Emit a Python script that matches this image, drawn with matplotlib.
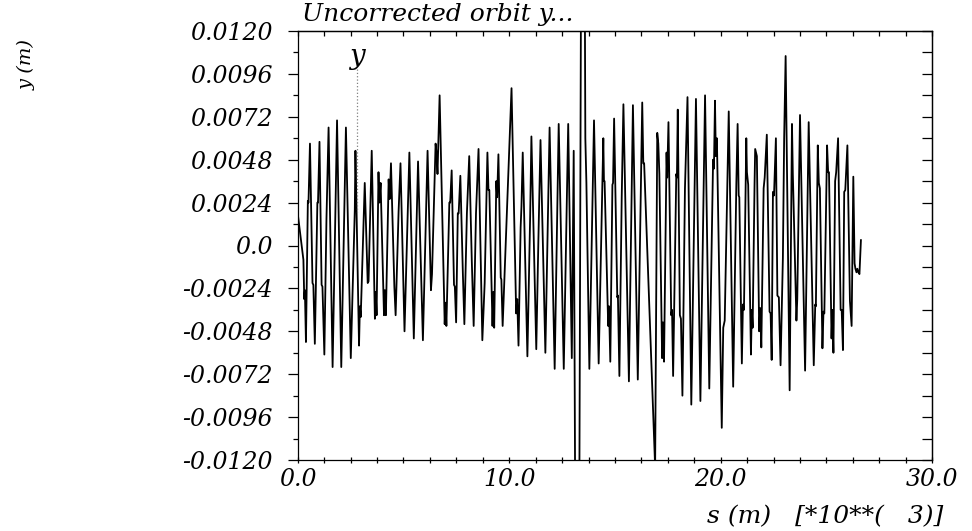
import numpy as np
import matplotlib
matplotlib.use("Agg")
import matplotlib.pyplot as plt

# orbit samples: s in km (x10**3 m), y in mm
s_km = [0.00, 0.27, 0.31, 0.34, 0.39, 0.48, 0.51, 0.58, 0.70, 0.74, 0.81, 0.93, 0.96, 1.03,
        1.13, 1.17, 1.26, 1.36, 1.46, 1.65, 1.86, 2.06, 2.28, 2.51, 2.70, 2.73, 2.90, 2.94,
        2.98, 3.01, 3.17, 3.31, 3.35, 3.50, 3.65, 3.69, 3.73, 3.82, 3.86, 3.92, 4.08, 4.12,
        4.17, 4.30, 4.35, 4.41, 4.57, 4.63, 4.77, 4.86, 5.05, 5.28, 5.49, 5.69, 5.92, 6.14,
        6.30, 6.35, 6.52, 6.56, 6.61, 6.71, 6.95, 6.99, 7.03, 7.17, 7.21, 7.28, 7.39, 7.43,
        7.49, 7.57, 7.61, 7.69, 7.81, 7.88, 8.00, 8.11, 8.23, 8.32, 8.43, 8.55, 8.65, 8.73,
        8.84, 8.97, 9.02, 9.06, 9.17, 9.21, 9.25, 9.29, 9.39, 9.43, 9.49, 9.60, 9.63, 9.69,
        10.11, 10.33, 10.38, 10.44, 10.54, 10.58, 10.64, 10.86, 10.99, 11.05, 11.28, 11.38,
        11.48, 11.71, 11.91, 12.15, 12.34, 12.58, 12.79, 12.96, 13.05, 13.23, 13.48, 13.60,
        13.65, 13.79, 14.01, 14.23, 14.45, 14.48, 14.51, 14.68, 14.72, 14.78, 14.88, 14.91,
        14.96, 15.11, 15.14, 15.21, 15.32, 15.40, 15.66, 15.85, 16.08, 16.29, 16.34, 16.38,
        16.90, 17.00, 17.05, 17.10, 17.23, 17.27, 17.32, 17.44, 17.47, 17.53, 17.66, 17.70,
        17.75, 17.90, 17.93, 17.97, 18.07, 18.12, 18.19, 18.31, 18.43, 18.61, 18.83, 19.04,
        19.26, 19.46, 19.64, 19.68, 19.73, 19.77, 19.82, 20.05, 20.12, 20.19, 20.38, 20.59,
        20.74, 20.80, 20.85, 20.88, 21.00, 21.05, 21.10, 21.21, 21.24, 21.30, 21.43, 21.47,
        21.51, 21.60, 21.63, 21.71, 21.82, 21.87, 21.92, 22.03, 22.08, 22.18, 22.31, 22.36,
        22.41, 22.47, 22.52, 22.61, 22.68, 22.75, 22.83, 22.94, 23.00, 23.07, 23.26, 23.37,
        23.41, 23.44, 23.58, 23.62, 23.75, 23.99, 24.16, 24.40, 24.47, 24.50, 24.59, 24.64,
        24.69, 24.81, 24.86, 24.90, 25.03, 25.08, 25.12, 25.24, 25.28, 25.33, 25.41, 25.46,
        25.55, 25.67, 25.72, 25.78, 25.84, 25.89, 25.99, 26.11, 26.19, 26.27, 26.33, 26.37,
        26.42, 26.46, 26.51, 26.56, 26.63]
y_mm = [1.8, -0.8, -3.0, -2.5, -5.4, 2.5, 2.4, 5.7, -2.1, -2.2, -5.5, 2.4, 2.4, 5.8,
        -2.2, -2.3, -6.1, 1.5, 6.6, -6.8, 7.0, -6.8, 6.6, -6.3, 2.0, 5.3, -5.6, -3.4,
        -4.0, -2.8, 3.5, -2.1, -2.0, 5.3, -4.1, -2.6, -3.9, 4.1, 2.4, 3.5, -3.9, -2.5,
        -3.9, 3.7, 2.6, 4.6, -2.3, -3.9, 1.9, 4.6, -4.8, 5.2, -5.2, 4.7, -5.3, 5.3,
        -2.5, -1.6, 5.7, 5.2, 4.0, 8.4, -4.4, -3.2, -4.5, 2.4, 2.4, 4.2, -2.2, -2.3,
        -4.3, 1.8, 1.8, 3.9, -1.6, -4.4, 1.8, 5.0, -0.8, -4.5, 1.8, 5.4, -0.7, -5.3,
        -2.1, 5.2, 3.1, 3.1, -2.6, -4.5, -2.6, -4.6, 3.6, 2.7, 5.1, -1.8, -1.9, -4.5,
        8.8, -3.8, -3.0, -5.6, 1.0, 2.2, 5.2, -6.2, 1.6, 6.1, -5.8, 0.3,
        5.9, -6.0, 6.6, -6.9, 6.8, -6.9, 6.8, -6.3, 5.3, -45.0, 45.0, 6.0,
        3.5, -6.9, 7.0, -6.6, 6.0, 3.6, 3.6, -4.5, -3.4, -6.5, 3.4, 3.5,
        7.1, -2.9, -2.8, -7.3, 2.7, 7.9, -7.6, 7.85, -7.5, 8.0, 4.6, 4.6,
        -12.4, 6.3, 5.7, 4.0, -6.3, -4.3, -6.5, 5.2, 3.8, 6.9, -3.9, -3.6,
        -7.3, 4.0, 3.8, 7.6, -3.9, -4.1, -8.4, 3.2, 8.3, -8.9, 8.2, -8.7,
        8.4, -8.0, 4.8, 4.3, 8.1, 5.0, 6.0, -10.2, -4.6, -4.2, 7.5, -7.9,
        3.5, 6.8, 2.8, 2.7, -6.6, -3.3, -3.6, 6.0, 4.1, 3.4, -6.1, -3.6,
        -4.6, 3.4, 5.4, 5.0, -4.8, -3.5, -5.7, 3.2, 3.8, 6.2, -3.7, -3.8,
        -6.4, 3.0, 2.8, 6.0, -2.8, -2.9, -6.7, -0.7, 6.0, 10.6, -8.1, 6.8,
        4.0, 2.6, -4.2, -3.0, 7.3, -7.0, 6.9, -6.7, -3.3, -3.4, 5.6, 3.5,
        3.2, -5.75, -3.7, -3.8, 5.6, 4.1, 4.1, -5.2, -3.6, -6.0, 3.6, 4.1,
        6.0, -3.6, -3.6, -5.85, 3.0, 3.1, 5.6, -3.1, -4.5, 3.85, -1.0, -1.3,
        -1.5, -1.3, -1.5, -1.6, 0.3]

ytick_vals = [-0.012, -0.0096, -0.0072, -0.0048, -0.0024, 0.0,
              0.0024, 0.0048, 0.0072, 0.0096, 0.012]
ytick_labels = ['-0.0120', '-0.0096', '-0.0072', '-0.0048', '-0.0024', '0.0',
                '0.0024', '0.0048', '0.0072', '0.0096', '0.0120']
xtick_vals = [0, 10, 20, 30]
xtick_labels = ['0.0', '10.0', '20.0', '30.0']

marker_s = 2.82  # position of the "y" marker

W, H = 972, 531
fig = plt.figure(figsize=(W / 100, H / 100), dpi=100)
ax = fig.add_axes([297.7 / W, 1 - 460 / H, (932.2 - 297.7) / W, 429 / H])

font = dict(family='DejaVu Serif', style='italic')

ax.plot(s_km, np.array(y_mm) / 1000.0, color='black', lw=1.3)
ax.plot([marker_s, marker_s], [0.0099, 0.0019], ls=':', color='gray', lw=0.9)
ax.text(marker_s, 0.0106, 'y', ha='center', va='center', fontsize=20, **font)

ax.set_xlim(0, 30)
ax.set_ylim(-0.012, 0.012)

ax.set_yticks(ytick_vals)
ax.set_yticklabels(ytick_labels, fontsize=17, **font)
ax.set_yticks(np.arange(-0.012, 0.01201, 0.0012), minor=True)
ax.tick_params(axis='y', which='major', direction='out', length=7.5, width=0.9, pad=10.5)
ax.tick_params(axis='y', which='minor', direction='out', length=3.8, width=0.9)

ax.set_xticks(xtick_vals)
ax.set_xticklabels(xtick_labels, fontsize=17, **font)
ax.set_xticks(np.arange(0, 30.01, 1.25), minor=True)
ax.tick_params(axis='x', which='both', direction='inout', length=5, width=0.9, pad=3)

# inward ticks on top and right
axr = ax.secondary_yaxis('right')
axr.set_yticks(np.arange(-0.012, 0.01201, 0.0012))
axr.set_yticklabels([])
axr.tick_params(direction='in', length=7.5, width=0.9)
axt = ax.secondary_xaxis('top')
axt.set_xticks(np.arange(0, 30.01, 1.25))
axt.set_xticklabels([])
axt.tick_params(direction='in', length=3.5, width=0.9)

for sp in ax.spines.values():
    sp.set_linewidth(0.9)
axr.spines['right'].set_linewidth(0.9)
axt.spines['top'].set_linewidth(0.9)

fig.text(302 / W, 1 - 15 / H, 'Uncorrected orbit y...', ha='left', va='center',
         fontsize=18, **font)
fig.text(27 / W, 1 - 65 / H, 'y (m)', rotation=90, ha='center', va='center',
         fontsize=14, **font)
fig.text(943 / W, 1 - 517 / H, 's (m)   [*10**(   3)]', ha='right', va='center',
         fontsize=18, **font)

fig.savefig('out.png', dpi=100)
